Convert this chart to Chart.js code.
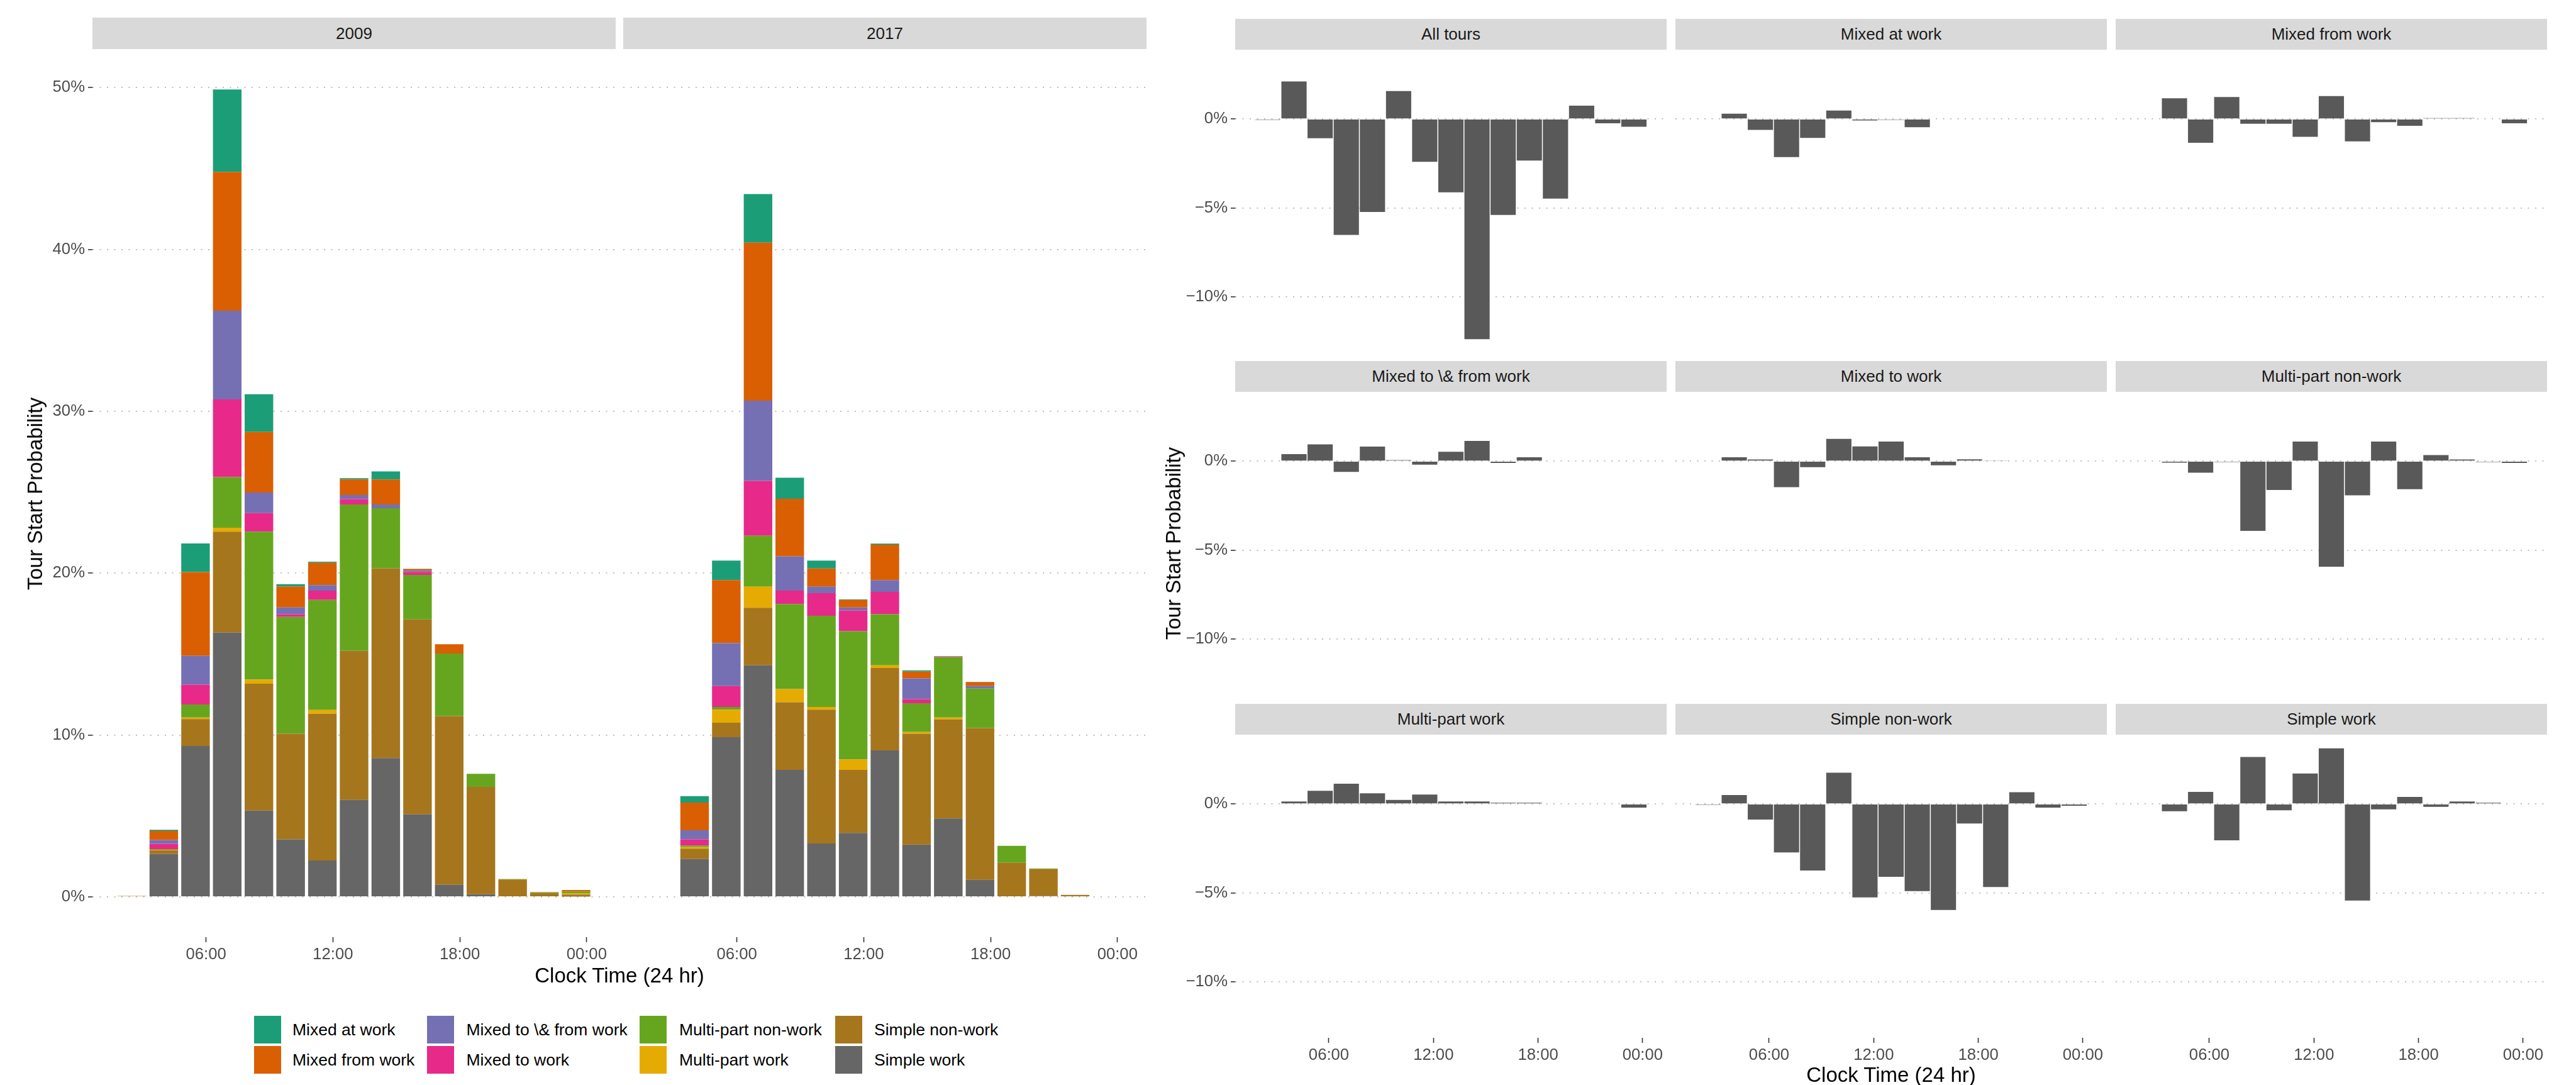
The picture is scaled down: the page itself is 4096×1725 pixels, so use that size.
<!DOCTYPE html>
<html>
<head>
<meta charset="utf-8">
<script src="https://cdn.jsdelivr.net/npm/chart.js@4.4.0/dist/chart.umd.min.js"></script>
<style>
  body { margin: 0; width: 4096px; height: 1725px; position: relative; overflow: hidden; background: #fff;
         font-family: "Liberation Sans", Arial, sans-serif; }
  canvas { position: absolute; }
  .strip { position: absolute; background: #d9d9d9; color: #1a1a1a; font-size: 26px;
           display: flex; align-items: center; justify-content: center; white-space: nowrap; }
  .title { position: absolute; font-size: 33px; color: #000; white-space: nowrap; }
  .key { position: absolute; }
  .keytext { position: absolute; font-size: 26.5px; color: #000; white-space: nowrap; transform: translateY(-50%); }
</style>
</head>
<body>
<script>
// bin centres (hours), 1.5 h bins
const hours = [2.5, 4, 5.5, 7, 8.5, 10, 11.5, 13, 14.5, 16, 17.5, 19, 20.5, 22, 23.5];
const xTickHours = [6, 12, 18, 24];
const xTickLabels = ["06:00", "12:00", "18:00", "00:00"];
const leftYTicks = [0, 10, 20, 30, 40, 50];
const rightYTicks = [-10, -5, 0];
const years = ["2009", "2017"];

const tourTypes = ["Mixed at work", "Mixed from work", "Mixed to \\& from work", "Mixed to work",
                   "Multi-part non-work", "Multi-part work", "Simple non-work", "Simple work"];
const typeColors = ["#1B9E77", "#D95F02", "#7570B3", "#E7298A", "#66A61E", "#E6AB02", "#A6761D", "#666666"];

// 2009 shares (%)
const mixedAtWork2009 = [0, 0.07, 1.77, 5.09, 2.33, 0.15, 0.06, 0.07, 0.49, 0.02, 0, 0, 0, 0, 0];
const mixedFromWork2009 = [0, 0.56, 5.17, 8.58, 3.74, 1.29, 1.38, 0.97, 1.55, 0.10, 0.57, 0, 0, 0, 0.10];
const mixedToFromWork2009 = [0, 0.23, 1.78, 5.48, 1.27, 0.42, 0.34, 0.25, 0.23, 0.08, 0, 0, 0, 0, 0];
const mixedToWork2009 = [0, 0.33, 1.23, 4.80, 1.15, 0.17, 0.58, 0.33, 0, 0.18, 0, 0, 0, 0, 0];
const multiNonWork2009 = [0, 0.05, 0.80, 3.13, 9.14, 7.21, 6.80, 9.04, 3.71, 2.75, 3.87, 0.81, 0.02, 0.04, 0.10];
const multiWork2009 = [0, 0.03, 0.10, 0.24, 0.25, 0, 0.23, 0, 0, 0, 0, 0, 0.01, 0, 0.08];
const simpleNonWork2009 = [0.05, 0.22, 1.66, 6.23, 7.84, 6.53, 9.06, 9.21, 11.73, 12.05, 10.42, 6.63, 1.07, 0.25, 0.12];
const simpleWork2009 = [0, 2.65, 9.32, 16.33, 5.33, 3.55, 2.25, 5.99, 8.57, 5.09, 0.74, 0.16, 0, 0, 0.02];

// 2017 shares (%)
const mixedAtWork2017 = [0, 0.40, 1.20, 3.00, 1.30, 0.48, 0.04, 0.07, 0.08, 0, 0.02, 0, 0, 0, 0];
const mixedFromWork2017 = [0, 1.71, 3.90, 9.77, 3.56, 1.13, 0.46, 2.18, 0.41, 0, 0.24, 0, 0, 0, 0];
const mixedToFromWork2017 = [0, 0.56, 2.65, 4.95, 2.11, 0.40, 0.19, 0.73, 1.29, 0, 0.16, 0, 0, 0, 0];
const mixedToWork2017 = [0, 0.38, 1.29, 3.39, 0.83, 1.40, 1.28, 1.38, 0.25, 0.05, 0, 0, 0, 0, 0];
const multiNonWork2017 = [0, 0.10, 0.17, 3.15, 5.25, 5.63, 7.93, 3.16, 1.78, 3.74, 2.43, 1.05, 0.04, 0, 0];
const multiWork2017 = [0, 0.09, 0.80, 1.30, 0.82, 0.17, 0.64, 0.16, 0.10, 0.12, 0, 0, 0, 0, 0];
const simpleNonWork2017 = [0, 0.65, 0.90, 3.56, 4.18, 8.26, 3.89, 5.09, 6.85, 6.12, 9.38, 2.10, 1.66, 0.12, 0];
const simpleWork2017 = [0, 2.33, 9.86, 14.30, 7.84, 3.30, 3.95, 9.05, 3.23, 4.84, 1.05, 0, 0.05, 0, 0];

// change 2009 -> 2017 (percentage points)
const facetNames = ["All tours", "Mixed at work", "Mixed from work", "Mixed to \\& from work", "Mixed to work",
                    "Multi-part non-work", "Multi-part work", "Simple non-work", "Simple work"];
const diffAllTours = [-0.05, 2.11, -1.08, -6.51, -5.22, 1.57, -2.40, -4.12, -12.36, -5.39, -2.33, -4.47, 0.75, -0.24, -0.44];
const diffMixedAtWork = [0, 0.30, -0.61, -2.14, -1.06, 0.47, -0.08, -0.05, -0.46, 0, 0, 0, 0, 0, 0];
const diffMixedFromWork = [0, 1.16, -1.34, 1.23, -0.27, -0.27, -1.00, 1.29, -1.26, -0.18, -0.38, 0.05, 0.05, 0, -0.24];
const diffMixedToFromWork = [0, 0.39, 0.94, -0.60, 0.82, 0.06, -0.20, 0.53, 1.14, -0.10, 0.22, 0, 0, 0, 0];
const diffMixedToWork = [0, 0.22, 0.09, -1.46, -0.34, 1.25, 0.83, 1.10, 0.22, -0.23, 0.10, 0.04, 0, 0, 0];
const diffMultiNonWork = [0, -0.08, -0.65, -0.05, -3.91, -1.62, 1.10, -5.93, -1.92, 1.10, -1.57, 0.34, 0.09, -0.05, -0.10];
const diffMultiWork = [0, 0.14, 0.74, 1.14, 0.60, 0.23, 0.53, 0.14, 0.14, 0.07, 0.07, 0, 0, 0, -0.21];
const diffSimpleNonWork = [-0.05, 0.50, -0.88, -2.72, -3.74, 1.75, -5.25, -4.09, -4.89, -5.95, -1.10, -4.66, 0.66, -0.21, -0.10];
const diffSimpleWork = [0, -0.41, 0.68, -2.04, 2.64, -0.36, 1.71, 3.12, -5.42, -0.30, 0.39, -0.16, 0.14, 0.07, 0];

const shares = {
  "2009": [mixedAtWork2009, mixedFromWork2009, mixedToFromWork2009, mixedToWork2009,
           multiNonWork2009, multiWork2009, simpleNonWork2009, simpleWork2009],
  "2017": [mixedAtWork2017, mixedFromWork2017, mixedToFromWork2017, mixedToWork2017,
           multiNonWork2017, multiWork2017, simpleNonWork2017, simpleWork2017]
};
const diffs = [diffAllTours, diffMixedAtWork, diffMixedFromWork, diffMixedToFromWork, diffMixedToWork,
               diffMultiNonWork, diffMultiWork, diffSimpleNonWork, diffSimpleWork];

const FONT = '"Liberation Sans", Arial, sans-serif';
const xRange = [0.625, 25.375];
const leftYRange = [-2.494, 52.374];
const rightYRange = [-13.13, 3.89];

function addDiv(cls, text, css) {
  const d = document.createElement("div");
  d.className = cls;
  d.textContent = text;
  d.style.cssText = css;
  document.body.appendChild(d);
  return d;
}

function toPoints(vals) {
  return hours.map((h, i) => ({ x: h, y: vals[i] }));
}

function makePanel(p) {
  const L = p.showY ? 110 : 0;
  const B = p.showX ? 60 : 0;
  const c = document.createElement("canvas");
  c.width = p.w + L;
  c.height = p.h + B;
  c.style.left = (p.x - L) + "px";
  c.style.top = p.y + "px";
  c.style.width = (p.w + L) + "px";
  c.style.height = (p.h + B) + "px";
  document.body.appendChild(c);

  new Chart(c, {
    type: "bar",
    data: { datasets: p.datasets },
    options: {
      responsive: false,
      animation: false,
      devicePixelRatio: 1,
      layout: { padding: 0, autoPadding: false },
      plugins: { legend: { display: false }, tooltip: { enabled: false } },
      datasets: { bar: { barPercentage: p.barPct, categoryPercentage: 1, borderWidth: 0 } },
      scales: {
        x: {
          type: "linear",
          stacked: true,
          offset: false,
          min: xRange[0],
          max: xRange[1],
          afterBuildTicks: s => { s.ticks = xTickHours.map(v => ({ value: v })); },
          afterFit: s => { s.height = B; s.paddingLeft = 0; s.paddingRight = 0; },
          grid: { offset: false, drawOnChartArea: false, drawTicks: p.showX, tickLength: 8,
                  tickColor: "#333333", tickWidth: 1.6 },
          border: { display: false },
          ticks: {
            display: p.showX, autoSkip: false, maxRotation: 0, padding: 4,
            color: "#4d4d4d", font: { family: FONT, size: 25.7 },
            callback: v => xTickLabels[xTickHours.indexOf(v)]
          }
        },
        y: {
          stacked: true,
          min: p.yRange[0],
          max: p.yRange[1],
          afterBuildTicks: s => { s.ticks = p.yTicks.map(v => ({ value: v })); },
          afterFit: s => { s.width = L; s.paddingTop = 0; s.paddingBottom = 0; },
          grid: { color: "#b5b5b5", lineWidth: 1.8, drawTicks: p.showY, tickLength: 7,
                  tickColor: "#333333", tickWidth: 1.6 },
          border: { display: false, dash: [2, 9.5] },
          ticks: {
            display: p.showY, padding: 5,
            color: "#4d4d4d", font: { family: FONT, size: 25.7 },
            callback: v => (v < 0 ? "\u2212" + (-v) : v) + "%"
          }
        }
      }
    }
  });
}

// ---- left: stacked shares by year ----
const leftPanelX = [147, 991];
const leftPanelW = 832;
years.forEach((yr, k) => {
  addDiv("strip", yr, `left:${leftPanelX[k]}px;top:28px;width:${leftPanelW}px;height:50px;`);
  const ds = [];
  for (let i = tourTypes.length - 1; i >= 0; i--) {
    ds.push({ label: tourTypes[i], data: toPoints(shares[yr][i]), backgroundColor: typeColors[i] });
  }
  makePanel({ x: leftPanelX[k], y: 78, w: leftPanelW, h: 1412, yRange: leftYRange, yTicks: leftYTicks,
              showY: k === 0, showX: true, barPct: 0.9, datasets: ds });
});

addDiv("title", "Tour Start Probability",
  "left:56px;top:785px;transform:translate(-50%,-50%) rotate(-90deg);");
addDiv("title", "Clock Time (24 hr)", "left:985px;top:1551px;transform:translate(-50%,-50%);");

// legend
const keyCols = [404, 679, 1017, 1328];
const keyTextCols = [465, 741.5, 1080, 1390];
const keyRows = [1614.6, 1662.7];
tourTypes.forEach((name, i) => {
  const col = Math.floor(i / 2), row = i % 2;
  addDiv("key", "", `left:${keyCols[col]}px;top:${keyRows[row]}px;width:43px;height:44px;background:${typeColors[i]};`);
  addDiv("keytext", name, `left:${keyTextCols[col]}px;top:${keyRows[row] + 22}px;`);
});

// ---- right: change by tour type ----
const colX = [1964, 2664, 3364];
const colW = 686;
const rowTop = [79, 623, 1168];
const rowH = 482;
facetNames.forEach((name, i) => {
  const col = i % 3, row = Math.floor(i / 3);
  addDiv("strip", name, `left:${colX[col]}px;top:${rowTop[row] - 49}px;width:${colW}px;height:49px;`);
  makePanel({ x: colX[col], y: rowTop[row], w: colW, h: rowH, yRange: rightYRange, yTicks: rightYTicks,
              showY: col === 0, showX: row === 2, barPct: 0.965,
              datasets: [{ label: name, data: toPoints(diffs[i]), backgroundColor: "#595959" }] });
});

addDiv("title", "Tour Start Probability",
  "left:1866px;top:864px;transform:translate(-50%,-50%) rotate(-90deg);");
addDiv("title", "Clock Time (24 hr)", "left:3007px;top:1709px;transform:translate(-50%,-50%);");
</script>
</body>
</html>
